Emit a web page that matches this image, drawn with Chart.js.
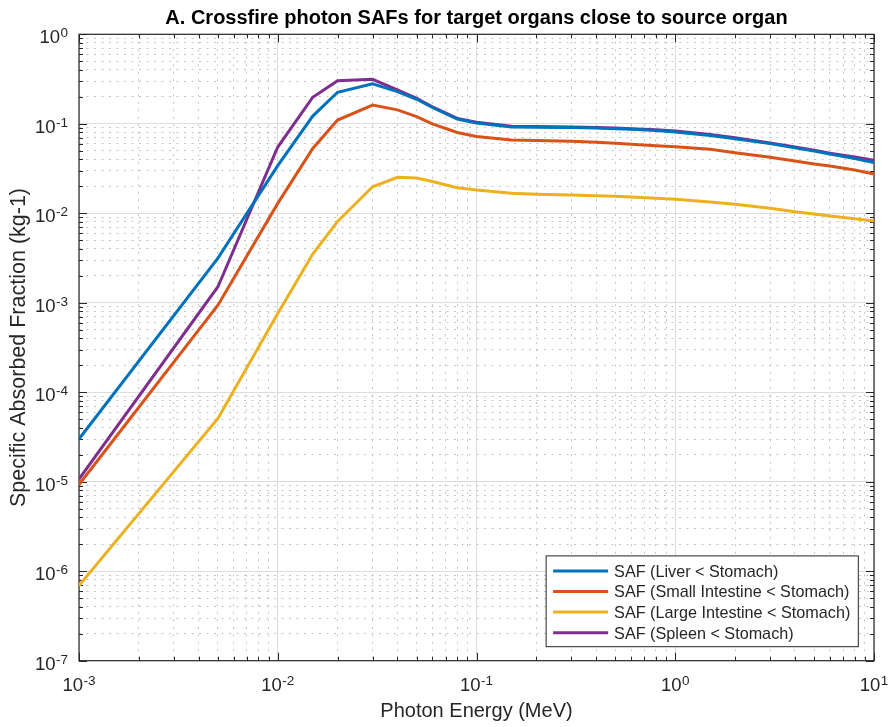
<!DOCTYPE html>
<html>
<head>
<meta charset="utf-8">
<script src="https://cdn.jsdelivr.net/npm/chart.js@4"></script>
<style>
  html, body { margin: 0; padding: 0; background: #ffffff; }
  #wrap { width: 891px; height: 727px; }
</style>
</head>
<body>
<div id="wrap"><canvas id="c" width="891" height="727"></canvas></div>
<script>
// ---------------- data ----------------
const energyMeV = [0.001, 0.005, 0.01, 0.015, 0.02, 0.03, 0.04, 0.05, 0.06, 0.08, 0.1, 0.15, 0.2, 0.3, 0.4, 0.5, 0.6, 0.8, 1, 1.5, 2, 3, 4, 5, 6, 8, 10];

const safLiver = [3.0e-5, 3.15e-3, 0.034, 0.122, 0.225, 0.279, 0.229, 0.188, 0.152, 0.113, 0.102, 0.092, 0.0915, 0.091, 0.090, 0.088, 0.087, 0.084, 0.081, 0.074, 0.068, 0.060, 0.054, 0.0495, 0.046, 0.041, 0.037];
const safSmallIntestine = [9.3e-6, 9.4e-4, 0.0129, 0.053, 0.110, 0.162, 0.143, 0.120, 0.0995, 0.080, 0.072, 0.066, 0.065, 0.064, 0.062, 0.0605, 0.059, 0.057, 0.0555, 0.0518, 0.0475, 0.0422, 0.0384, 0.0355, 0.0338, 0.0305, 0.0275];
const safLargeIntestine = [6.9e-7, 5.1e-5, 7.6e-4, 0.0035, 0.0081, 0.0198, 0.0252, 0.0248, 0.0226, 0.0193, 0.0182, 0.0167, 0.0163, 0.016, 0.0157, 0.0155, 0.0152, 0.0147, 0.0143, 0.0134, 0.0126, 0.0114, 0.0104, 0.0098, 0.0093, 0.0087, 0.0082];
const safSpleen = [1.07e-5, 1.51e-3, 0.055, 0.198, 0.303, 0.314, 0.240, 0.193, 0.155, 0.115, 0.104, 0.094, 0.093, 0.092, 0.091, 0.090, 0.088, 0.086, 0.083, 0.076, 0.070, 0.061, 0.055, 0.0505, 0.047, 0.0425, 0.039];

const seriesLabels = ['SAF (Liver < Stomach)', 'SAF (Small Intestine < Stomach)', 'SAF (Large Intestine < Stomach)', 'SAF (Spleen < Stomach)'];
const seriesColors = ['#0072BD', '#D95319', '#EDB120', '#7E2F8E'];

const xDecades = [1e-3, 1e-2, 1e-1, 1e0, 1e1];
const xTickLabels = ['10^-3', '10^-2', '10^-1', '10^0', '10^1'];
const yDecades = [1e-7, 1e-6, 1e-5, 1e-4, 1e-3, 1e-2, 1e-1, 1e0];
const yTickLabels = ['10^-7', '10^-6', '10^-5', '10^-4', '10^-3', '10^-2', '10^-1', '10^0'];

const titleText = 'A. Crossfire photon SAFs for target organs close to source organ';
const xTitle = 'Photon Energy (MeV)';
const yTitle = 'Specific Absorbed Fraction (kg-1)';

// ---------------- helpers ----------------
const FONT = '"Liberation Sans", Arial, Helvetica, sans-serif';
const AXC = '#262626';

function logTicks(decades) {
  const out = [];
  for (let i = 0; i < decades.length; i++) {
    out.push(decades[i]);
    if (i < decades.length - 1) {
      for (let m = 2; m <= 9; m++) out.push(decades[i] * m);
    }
  }
  return out;
}
function decadeIndex(v, decades) {
  for (let i = 0; i < decades.length; i++) {
    if (Math.abs(Math.log10(v) - Math.log10(decades[i])) < 1e-6) return i;
  }
  return -1;
}

const seriesValues = [safLiver, safSmallIntestine, safLargeIntestine, safSpleen];
const datasets = seriesValues.map((vals, k) => ({
  label: seriesLabels[k],
  data: energyMeV.map((e, i) => ({ x: e, y: vals[i] })),
  borderColor: seriesColors[k],
  backgroundColor: seriesColors[k],
  borderWidth: 3,
  pointRadius: 0,
  tension: 0,
  fill: false
}));

// draws "10" with a raised exponent; align: 'center' or 'right'
function drawPowerLabel(ctx, label, x, baseline, align) {
  const parts = label.split('^');
  const base = parts[0], exp = parts[1] || '';
  const baseFont = '18.5px ' + FONT, expFont = '13.5px ' + FONT;
  ctx.font = baseFont;
  const wb = ctx.measureText(base).width;
  ctx.font = expFont;
  const we = ctx.measureText(exp).width;
  const total = wb + 0.5 + we;
  const x0 = align === 'center' ? x - total / 2 : x - total;
  ctx.textAlign = 'left';
  ctx.textBaseline = 'alphabetic';
  ctx.font = baseFont;
  ctx.fillText(base, x0, baseline);
  ctx.font = expFont;
  ctx.fillText(exp, x0 + wb + 0.5, baseline - 6);
}

// ---------------- MATLAB-style box, ticks, labels, legend ----------------
const matlabAxes = {
  id: 'matlabAxes',
  afterLayout(chart) {
    const a = chart.chartArea;
    if (chart.titleBlock) {
      chart.titleBlock.left = a.left;
      chart.titleBlock.right = a.right;
    }
  },
  beforeDatasetsDraw(chart) {
    const { ctx, chartArea: a, scales } = chart;
    const xs = scales.x, ys = scales.y;
    ctx.save();
    ctx.strokeStyle = AXC;
    ctx.lineWidth = 1;
    ctx.beginPath();
    xs.ticks.forEach(t => {
      const px = Math.round(xs.getPixelForValue(t.value)) + 0.5;
      const len = decadeIndex(t.value, xDecades) >= 0 ? 8 : 4;
      ctx.moveTo(px, a.bottom); ctx.lineTo(px, a.bottom - len);
      ctx.moveTo(px, a.top); ctx.lineTo(px, a.top + len);
    });
    ys.ticks.forEach(t => {
      const py = Math.round(ys.getPixelForValue(t.value)) + 0.5;
      const len = decadeIndex(t.value, yDecades) >= 0 ? 8 : 4;
      ctx.moveTo(a.left, py); ctx.lineTo(a.left + len, py);
      ctx.moveTo(a.right, py); ctx.lineTo(a.right - len, py);
    });
    ctx.stroke();
    ctx.lineWidth = 1.2;
    ctx.strokeRect(a.left, a.top, a.right - a.left, a.bottom - a.top);
    ctx.restore();
  },
  afterDatasetsDraw(chart) {
    const { ctx, chartArea: a } = chart;
    const ds = chart.data.datasets;
    ctx.save();
    ctx.font = '16.2px ' + FONT;
    let maxW = 0;
    ds.forEach(d => { maxW = Math.max(maxW, ctx.measureText(d.label).width); });
    const rowH = 20.6;
    const w = 68 + maxW + 8;
    const h = 15 + (ds.length - 1) * rowH + 14;
    const right = a.right - 15.7;
    const bottom = a.bottom - 14;
    const left = right - w;
    const top = bottom - h;
    ctx.fillStyle = '#ffffff';
    ctx.fillRect(left, top, w, h);
    ctx.strokeStyle = AXC;
    ctx.lineWidth = 1;
    ctx.strokeRect(left, top, w, h);
    ds.forEach((d, i) => {
      const cy = top + 15 + i * rowH;
      ctx.strokeStyle = d.borderColor;
      ctx.lineWidth = 3;
      ctx.beginPath();
      ctx.moveTo(left + 7, cy);
      ctx.lineTo(left + 62, cy);
      ctx.stroke();
      ctx.fillStyle = AXC;
      ctx.textBaseline = 'alphabetic';
      ctx.textAlign = 'left';
      ctx.font = '16.2px ' + FONT;
      ctx.fillText(d.label, left + 68, cy + 5.8);
    });
    ctx.restore();
  },
  afterDraw(chart) {
    const { ctx, chartArea: a, scales } = chart;
    const xs = scales.x, ys = scales.y;
    ctx.save();
    ctx.fillStyle = AXC;
    xDecades.forEach((v, i) => {
      drawPowerLabel(ctx, xTickLabels[i], xs.getPixelForValue(v), a.bottom + 30, 'center');
    });
    yDecades.forEach((v, i) => {
      drawPowerLabel(ctx, yTickLabels[i], a.left - 11, ys.getPixelForValue(v) + 8.8, 'right');
    });
    ctx.restore();
  }
};

function gridColor(decades) {
  return (c) => (c.tick && decadeIndex(c.tick.value, decades) >= 0) ? '#dcdcdc' : '#c4c4c4';
}
function gridDash(decades) {
  return (c) => {
    if (!c.tick) return [];
    return decadeIndex(c.tick.value, decades) >= 0 ? [] : [2, 5.5];
  };
}

new Chart(document.getElementById('c'), {
  type: 'line',
  data: { datasets },
  options: {
    responsive: false,
    animation: false,
    devicePixelRatio: 1,
    layout: { padding: { left: 0, right: 17, top: 0, bottom: 0 } },
    plugins: {
      legend: { display: false },
      tooltip: { enabled: false },
      title: {
        display: true,
        text: titleText,
        color: '#000000',
        font: { family: FONT, size: 20, weight: 'bold', lineHeight: 1.2 },
        padding: { top: 6, bottom: 4.3 }
      }
    },
    scales: {
      x: {
        type: 'logarithmic',
        position: 'bottom',
        min: 1e-3,
        max: 10,
        afterBuildTicks: (s) => { s.ticks = logTicks(xDecades).map(v => ({ value: v })); },
        afterFit: (s) => { s.height = 66.3; s.paddingLeft = 0; s.paddingRight = 0; },
        ticks: {
          display: false,
          autoSkip: false,
          maxRotation: 0,
          callback: (v) => { const i = decadeIndex(v, xDecades); return i >= 0 ? xTickLabels[i] : ''; }
        },
        grid: { drawTicks: false, color: gridColor(xDecades), lineWidth: 1 },
        border: { display: false, dash: gridDash(xDecades) },
        title: {
          display: true,
          text: xTitle,
          color: AXC,
          font: { family: FONT, size: 20, lineHeight: 1.2 },
          padding: { top: 0, bottom: 4 }
        }
      },
      y: {
        type: 'logarithmic',
        position: 'left',
        min: 1e-7,
        max: 1,
        afterBuildTicks: (s) => { s.ticks = logTicks(yDecades).map(v => ({ value: v })); },
        afterFit: (s) => { s.width = 79; s.paddingTop = 0; s.paddingBottom = 0; },
        ticks: {
          display: false,
          autoSkip: false,
          callback: (v) => { const i = decadeIndex(v, yDecades); return i >= 0 ? yTickLabels[i] : ''; }
        },
        grid: { drawTicks: false, color: gridColor(yDecades), lineWidth: 1 },
        border: { display: false, dash: gridDash(yDecades) },
        title: {
          display: true,
          text: yTitle,
          color: AXC,
          font: { family: FONT, size: 21.5, lineHeight: 1.2 },
          padding: { top: 6, bottom: 0 }
        }
      }
    }
  },
  plugins: [matlabAxes]
});
</script>
</body>
</html>
